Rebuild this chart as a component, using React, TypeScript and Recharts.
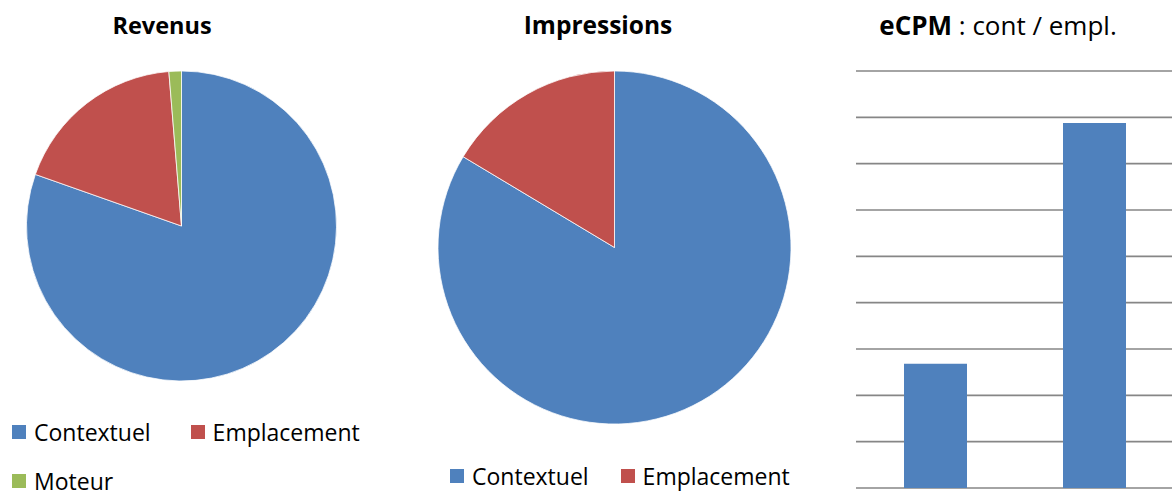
import React from 'react';
import { PieChart, Pie, Cell, BarChart, Bar, XAxis, YAxis, CartesianGrid } from 'recharts';

const revenueCategories = ['Contextuel', 'Emplacement', 'Moteur'];
const revenueValues = [80.4, 18.3, 1.3];
const impressionCategories = ['Contextuel', 'Emplacement'];
const impressionValues = [83.6, 16.4];
const ecpmCategories = ['Contextuel', 'Emplacement'];
const ecpmValues = [2.68, 7.88];
const ecpmTicks = [0, 1, 2, 3, 4, 5, 6, 7, 8, 9];
const edgeTicks = [0, 1, 2];
const seriesColors = ['#4F81BD', '#C0504D', '#9BBB59'];

const revenueData = revenueCategories.map((name, i) => ({ name, value: revenueValues[i] }));
const impressionData = impressionCategories.map((name, i) => ({ name, value: impressionValues[i] }));
const ecpmData = ecpmCategories.map((name, i) => ({ name, value: ecpmValues[i] }));

const FONT = '"Open Sans", "Noto Sans", sans-serif';
const GRID = '#868686';

function Title({ cx, top, children, size = 22 }: { cx: number; top: number; children: React.ReactNode; size?: number }) {
  return (
    <div
      style={{
        position: 'absolute',
        left: cx - 200,
        width: 400,
        top,
        textAlign: 'center',
        fontSize: size,
        lineHeight: '30px',
        color: '#000',
        whiteSpace: 'nowrap',
      }}
    >
      {children}
    </div>
  );
}

function LegendBlock({
  names,
  left,
  top,
  width,
  columnGap,
}: {
  names: string[];
  left: number;
  top: number;
  width: number;
  columnGap: number;
}) {
  return (
    <div
      style={{
        position: 'absolute',
        left,
        top,
        width,
        display: 'flex',
        flexWrap: 'wrap',
        columnGap,
        rowGap: 25,
      }}
    >
      {names.map((n, i) => (
        <div key={n} style={{ display: 'flex', alignItems: 'center', height: 24 }}>
          <div style={{ width: 14, height: 14, background: seriesColors[i], marginRight: 8 }} />
          <span style={{ fontSize: 23, lineHeight: '24px', color: '#000', whiteSpace: 'nowrap' }}>{n}</span>
        </div>
      ))}
    </div>
  );
}

export default function App() {
  return (
    <div
      style={{
        position: 'absolute',
        left: 0,
        top: 0,
        width: 1172,
        height: 491,
        overflow: 'hidden',
        background: '#fff',
        fontFamily: FONT,
      }}
    >
      <Title cx={162} top={9.5} size={23.5}>
        <b>Revenus</b>
      </Title>
      <Title cx={598} top={9.5} size={24.5}>
        <b>Impressions</b>
      </Title>
      <Title cx={998} top={9.5} size={26}>
        <b>eCPM</b> : cont / empl.
      </Title>

      <div style={{ position: 'absolute', left: 0, top: 0 }}>
        <PieChart width={400} height={420} margin={{ top: 0, right: 0, bottom: 0, left: 0 }}>
          <Pie
            data={revenueData}
            dataKey="value"
            nameKey="name"
            cx={181.5}
            cy={226}
            outerRadius={155}
            startAngle={90}
            endAngle={-270}
            stroke="#ffffff"
            strokeWidth={0.75}
            isAnimationActive={false}
          >
            {revenueData.map((d, i) => (
              <Cell key={d.name} fill={seriesColors[i]} />
            ))}
          </Pie>
        </PieChart>
      </div>

      <div style={{ position: 'absolute', left: 420, top: 0 }}>
        <PieChart width={400} height={440} margin={{ top: 0, right: 0, bottom: 0, left: 0 }}>
          <Pie
            data={impressionData}
            dataKey="value"
            nameKey="name"
            cx={194.5}
            cy={247.5}
            outerRadius={176.5}
            startAngle={90}
            endAngle={-270}
            stroke="#ffffff"
            strokeWidth={0.75}
            isAnimationActive={false}
          >
            {impressionData.map((d, i) => (
              <Cell key={d.name} fill={seriesColors[i]} />
            ))}
          </Pie>
        </PieChart>
      </div>

      <LegendBlock names={revenueCategories} left={12} top={420} width={360} columnGap={40} />
      <LegendBlock names={impressionCategories} left={450} top={464} width={360} columnGap={32} />

      <div style={{ position: 'absolute', left: 800, top: 0 }}>
        <BarChart
          width={400}
          height={520}
          data={ecpmData}
          margin={{ top: 71, right: 26, left: 56, bottom: 2 }}
          barCategoryGap="30%"
        >
          <CartesianGrid vertical={false} stroke={GRID} strokeWidth={1.7} xAxisId="cat" yAxisId="val" />
          <XAxis xAxisId="cat" dataKey="name" hide />
          <XAxis
            xAxisId="edge"
            type="number"
            domain={[0, 2]}
            ticks={edgeTicks}
            allowDataOverflow
            tickFormatter={() => ''}
            stroke={GRID}
            strokeWidth={1.7}
            tickSize={6}
            height={30}
          />
          <YAxis
            yAxisId="val"
            type="number"
            domain={[0, 9]}
            ticks={ecpmTicks}
            interval={0}
            width={0}
            tickFormatter={() => ''}
            axisLine={false}
            tickLine={false}
          />
          <Bar
            xAxisId="cat"
            yAxisId="val"
            dataKey="value"
            fill={seriesColors[0]}
            barSize={63}
            isAnimationActive={false}
          />
        </BarChart>
      </div>
    </div>
  );
}
